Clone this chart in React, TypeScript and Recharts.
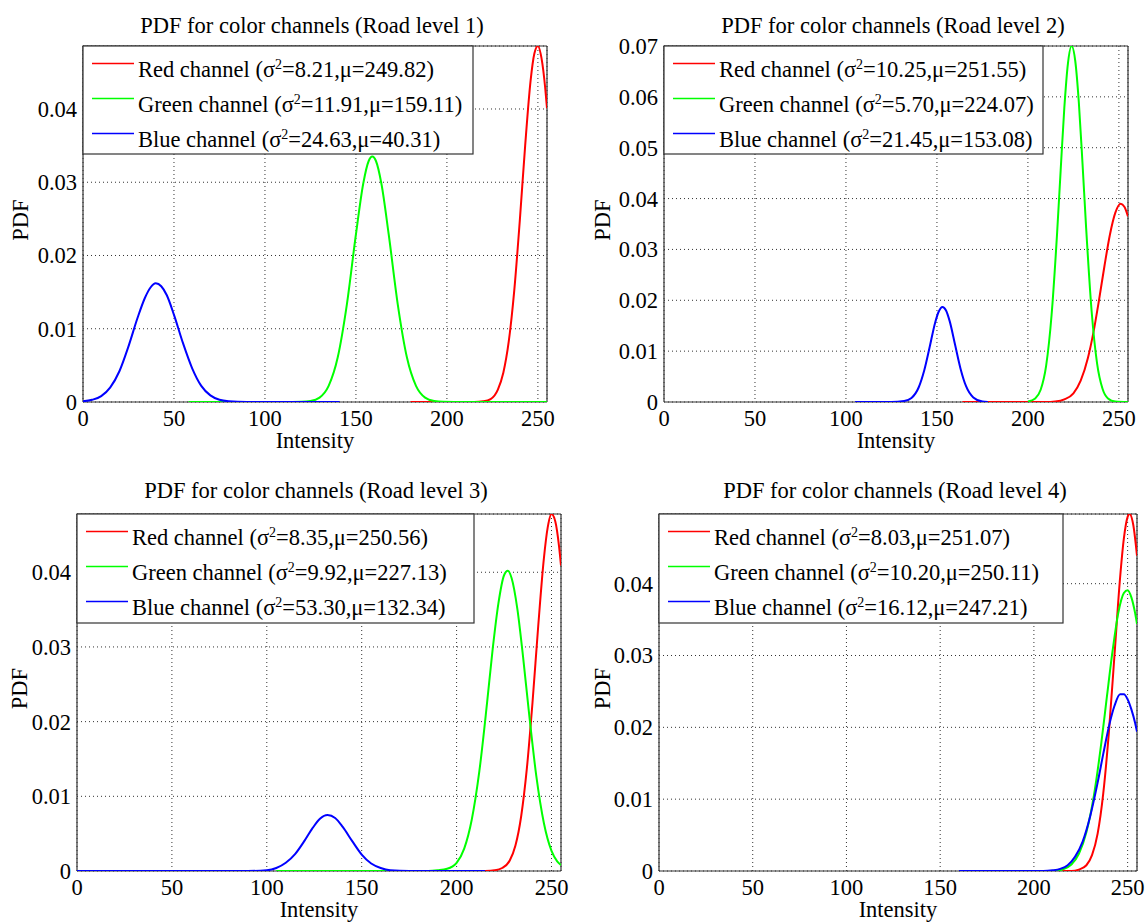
import React from 'react';
import { LineChart, Line, XAxis, YAxis, CartesianGrid } from 'recharts';

// ---------- data ----------
const X_TICKS = [0, 50, 100, 150, 200, 250];
const Y_TICKS_1 = [0, 0.01, 0.02, 0.03, 0.04];
const Y_TICKS_2 = [0, 0.01, 0.02, 0.03, 0.04, 0.05, 0.06, 0.07];
const Y_TICKS_3 = [0, 0.01, 0.02, 0.03, 0.04];
const Y_TICKS_4 = [0, 0.01, 0.02, 0.03, 0.04];
const Y_MAX = [0.0486, 0.07, 0.0478, 0.0497];

const TITLES = [
  'PDF for color channels (Road level 1)',
  'PDF for color channels (Road level 2)',
  'PDF for color channels (Road level 3)',
  'PDF for color channels (Road level 4)',
];
const CHANNEL_NAMES = ['Red channel', 'Green channel', 'Blue channel'];
const SIGMAS = [
  ['8.21', '11.91', '24.63'],
  ['10.25', '5.70', '21.45'],
  ['8.35', '9.92', '53.30'],
  ['8.03', '10.20', '16.12'],
];
const MUS = [
  ['249.82', '159.11', '40.31'],
  ['251.55', '224.07', '153.08'],
  ['250.56', '227.13', '132.34'],
  ['251.07', '250.11', '247.21'],
];

// [intensity, pdf]
const P1_RED = [[180, 0], [215, 0], [220, 0.0001], [224, 0.0004], [228, 0.0017], [231, 0.004], [234, 0.0083], [237, 0.0152], [240, 0.0246], [243, 0.035], [246, 0.0439], [248, 0.0475], [250, 0.0486], [252, 0.0469], [254, 0.0429], [255, 0.0401]];
const P1_GREEN = [[58, 0], [110, 0], [120, 0.00003], [125, 0.00014], [130, 0.0006], [135, 0.0022], [140, 0.0061], [145, 0.0133], [150, 0.0229], [154, 0.0298], [157, 0.0329], [159, 0.0335], [161, 0.0329], [164, 0.0298], [168, 0.0229], [173, 0.0133], [178, 0.0061], [183, 0.0022], [188, 0.0006], [193, 0.00014], [198, 0.00003], [210, 0], [255, 0]];
const P1_BLUE = [[0, 0.0001], [5, 0.0003], [10, 0.0008], [15, 0.002], [20, 0.0042], [25, 0.0076], [30, 0.0115], [34, 0.0142], [37, 0.0156], [40, 0.0162], [43, 0.0158], [46, 0.0146], [50, 0.0119], [55, 0.008], [60, 0.0046], [65, 0.0022], [70, 0.0009], [75, 0.0003], [80, 0.0001], [90, 0], [141, 0]];

const P2_RED = [[164, 0], [210, 0], [215, 0.0001], [220, 0.0005], [225, 0.0017], [229, 0.0042], [233, 0.0087], [236, 0.0137], [239, 0.0199], [242, 0.0266], [245, 0.0328], [248, 0.0372], [251, 0.039], [253, 0.0384], [255, 0.0365]];
const P2_GREEN = [[200, 0.0001], [204, 0.0007], [207, 0.0024], [210, 0.0071], [213, 0.0171], [216, 0.033], [218, 0.0456], [220, 0.0578], [222, 0.0666], [224, 0.07], [226, 0.0671], [228, 0.0588], [230, 0.0469], [232, 0.0342], [235, 0.0179], [238, 0.0076], [241, 0.0026], [244, 0.0007], [248, 0.0001], [255, 0]];
const P2_BLUE = [[105, 0], [125, 0], [132, 0.0002], [136, 0.0008], [140, 0.0029], [143, 0.0062], [146, 0.0108], [149, 0.0156], [151, 0.0178], [153, 0.0187], [155, 0.018], [157, 0.0159], [160, 0.0112], [163, 0.0065], [166, 0.0031], [170, 0.0009], [175, 0.0001], [178, 0]];

const P3_RED = [[215, 0], [220, 0.0001], [224, 0.0004], [228, 0.0014], [231, 0.0034], [234, 0.0073], [237, 0.0137], [240, 0.0226], [243, 0.0328], [246, 0.0419], [248, 0.046], [250, 0.0478], [252, 0.0468], [254, 0.0434], [255, 0.0409]];
const P3_GREEN = [[105, 0], [185, 0], [190, 0.0001], [195, 0.0003], [200, 0.0011], [204, 0.003], [208, 0.0069], [212, 0.0134], [216, 0.0224], [219, 0.0297], [222, 0.0358], [225, 0.0396], [227, 0.0402], [229, 0.0392], [232, 0.0351], [235, 0.0287], [238, 0.0215], [242, 0.0127], [246, 0.0064], [250, 0.0027], [253, 0.0013], [255, 0.0008]];
const P3_BLUE = [[0, 0], [90, 0], [100, 0.0001], [105, 0.0004], [110, 0.0011], [115, 0.0023], [120, 0.0041], [124, 0.0057], [128, 0.007], [132, 0.0075], [136, 0.0071], [140, 0.0059], [145, 0.004], [150, 0.0022], [155, 0.001], [160, 0.0004], [165, 0.0001], [175, 0], [215, 0]];

const P4_RED = [[215, 0], [220, 0], [224, 0.0002], [228, 0.0008], [231, 0.0022], [234, 0.0052], [237, 0.0108], [240, 0.0193], [243, 0.0301], [246, 0.0409], [248, 0.0463], [250, 0.0493], [251, 0.0497], [253, 0.0482], [255, 0.0439]];
const P4_GREEN = [[210, 0], [215, 0.0002], [220, 0.0009], [224, 0.0024], [228, 0.0054], [232, 0.0105], [236, 0.0179], [239, 0.0244], [242, 0.0307], [245, 0.0359], [248, 0.0387], [250, 0.0391], [252, 0.0381], [254, 0.0359], [255, 0.0344]];
const P4_BLUE = [[160, 0], [205, 0], [210, 0.0001], [214, 0.0003], [218, 0.0008], [222, 0.002], [226, 0.0041], [230, 0.0076], [234, 0.0123], [237, 0.0163], [240, 0.0201], [243, 0.023], [246, 0.0246], [248, 0.0246], [250, 0.0239], [252, 0.0225], [254, 0.0206], [255, 0.0194]];

const SERIES = [
  [P1_RED, P1_GREEN, P1_BLUE],
  [P2_RED, P2_GREEN, P2_BLUE],
  [P3_RED, P3_GREEN, P3_BLUE],
  [P4_RED, P4_GREEN, P4_BLUE],
];
const Y_TICKS = [Y_TICKS_1, Y_TICKS_2, Y_TICKS_3, Y_TICKS_4];
const COLORS = ['#ff0000', '#00ff00', '#0000ff'];

// ---------- layout ----------
const FONT = '"Liberation Serif", "Times New Roman", Times, serif';
const FS = 22.5;
const AXIS = '#333333';
const M_TOP = 15;
const M_RIGHT = 25;
const Y_W = 80;
const X_H = 40;
const LAYOUT = [
  { left: 83, right: 547, top: 46, bottom: 402, legRight: 473, legBottom: 154, titleY: 33, ylabOff: 55 },
  { left: 664, right: 1128, top: 46, bottom: 402, legRight: 1043, legBottom: 154, titleY: 33, ylabOff: 54 },
  { left: 77, right: 561, top: 514, bottom: 871, legRight: 474, legBottom: 623, titleY: 498, ylabOff: 50 },
  { left: 659, right: 1137, top: 514, bottom: 871, legRight: 1063, legBottom: 623, titleY: 498, ylabOff: 49 },
];

const toPts = (arr: number[][]) => arr.map(([x, v]) => ({ x, v }));
const fmtY = (v: number) => (v === 0 ? '0' : v.toFixed(2));

function Panel({ i }: { i: number }) {
  const p = LAYOUT[i];
  const W = p.right - p.left + Y_W + M_RIGHT;
  const H = p.bottom - p.top + M_TOP + X_H;
  const ymax = Y_MAX[i];
  const yt = Y_TICKS[i];
  const tickStyle = { fill: '#000', fontSize: FS, fontFamily: FONT };
  return (
    <div style={{ position: 'absolute', left: p.left - Y_W, top: p.top - M_TOP }}>
      <LineChart width={W} height={H} margin={{ top: M_TOP, right: M_RIGHT, left: 0, bottom: 0 }}>
        <CartesianGrid stroke="#333" strokeWidth={1} strokeDasharray="1 3" />
        <XAxis
          dataKey="x" type="number" domain={[0, 255]} ticks={X_TICKS} interval={0}
          allowDataOverflow height={X_H} tickLine={false} tickSize={0} tickMargin={8}
          axisLine={{ stroke: AXIS, strokeWidth: 1.2 }} tick={tickStyle}
        />
        <XAxis
          xAxisId="bin" dataKey="x" type="number" domain={[0, 255]} ticks={X_TICKS} interval={0}
          orientation="bottom" mirror tick={false} tickSize={5} axisLine={false}
          tickLine={{ stroke: AXIS, strokeWidth: 1 }}
        />
        <XAxis
          xAxisId="top" dataKey="x" type="number" domain={[0, 255]} ticks={X_TICKS} interval={0}
          orientation="top" mirror tick={false} tickSize={5}
          axisLine={{ stroke: AXIS, strokeWidth: 1.2 }} tickLine={{ stroke: AXIS, strokeWidth: 1 }}
        />
        <YAxis
          type="number" domain={[0, ymax]} ticks={yt} interval={0} allowDataOverflow
          width={Y_W} tickLine={false} tickSize={0} tickMargin={6} tickFormatter={fmtY}
          axisLine={{ stroke: AXIS, strokeWidth: 1.2 }} tick={tickStyle}
        />
        <YAxis
          yAxisId="lin" type="number" domain={[0, ymax]} ticks={yt} interval={0} allowDataOverflow
          orientation="left" mirror tick={false} tickSize={5} axisLine={false}
          tickLine={{ stroke: AXIS, strokeWidth: 1 }}
        />
        <YAxis
          yAxisId="r" type="number" domain={[0, ymax]} ticks={yt} interval={0} allowDataOverflow
          orientation="right" mirror tick={false} tickSize={5}
          axisLine={{ stroke: AXIS, strokeWidth: 1.2 }} tickLine={{ stroke: AXIS, strokeWidth: 1 }}
        />
        {SERIES[i].map((s, k) => (
          <Line
            key={k}
            data={toPts(s)}
            dataKey="v"
            type="monotone"
            stroke={COLORS[k]}
            strokeWidth={2}
            dot={false}
            activeDot={false}
            isAnimationActive={false}
            zIndex={600}
          />
        ))}
      </LineChart>
    </div>
  );
}

function Overlay() {
  return (
    <svg
      width={1145}
      height={922}
      style={{ position: 'absolute', left: 0, top: 0, pointerEvents: 'none' }}
      fontFamily={FONT}
      fontSize={FS}
    >
      {LAYOUT.map((p, i) => {
        const cx = (p.left + p.right) / 2;
        const cy = (p.top + p.bottom) / 2 - 4;
        return (
          <g key={i}>
            <text x={cx - 3} y={p.titleY} textAnchor="middle" fill="#000">{TITLES[i]}</text>
            <text x={cx} y={p.bottom + 46} textAnchor="middle" fill="#000">Intensity</text>
            <text
              transform={`translate(${p.left - p.ylabOff},${cy}) rotate(-90)`}
              textAnchor="middle"
              fill="#000"
            >
              PDF
            </text>
            <rect
              x={p.left}
              y={p.top}
              width={p.legRight - p.left}
              height={p.legBottom - p.top}
              fill="#fff"
              stroke={AXIS}
              strokeWidth={1.2}
            />
            {CHANNEL_NAMES.map((name, k) => {
              const ly = p.top + 17.5 + 35 * k;
              const ty = p.top + 31 + 35 * k;
              return (
                <g key={k}>
                  <line x1={p.left + 9} x2={p.left + 51} y1={ly} y2={ly} stroke={COLORS[k]} strokeWidth={1.5} />
                  <text x={p.left + 55} y={ty} fill="#000">
                    {name + ' (σ'}
                    <tspan dy={-8.5} fontSize={14}>2</tspan>
                    <tspan dy={8.5}>{'=' + SIGMAS[i][k] + ',μ=' + MUS[i][k] + ')'}</tspan>
                  </text>
                </g>
              );
            })}
          </g>
        );
      })}
    </svg>
  );
}

export default function App() {
  return (
    <div
      style={{
        position: 'absolute',
        left: 0,
        top: 0,
        width: 1145,
        height: 922,
        background: '#fff',
        overflow: 'hidden',
        fontFamily: FONT,
      }}
    >
      {[0, 1, 2, 3].map((i) => (
        <Panel key={i} i={i} />
      ))}
      <Overlay />
    </div>
  );
}
